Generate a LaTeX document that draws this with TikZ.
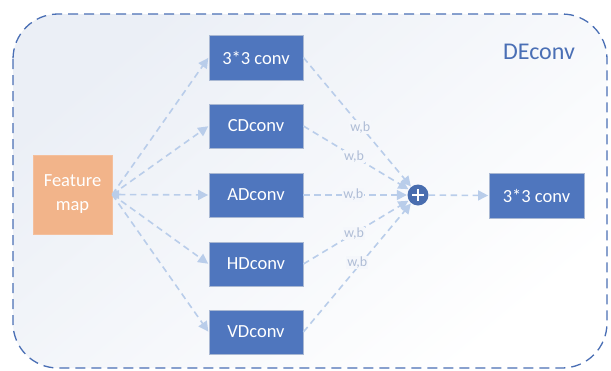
\documentclass[tikz,border=0pt]{standalone}
\usepackage{fontspec}
\setmainfont{Carlito}
\usetikzlibrary{arrows.meta}
\definecolor{boxblue}{HTML}{4F76BE}
\definecolor{boxedge}{HTML}{A9B8D3}
\definecolor{orng}{HTML}{F2B48A}
\definecolor{arr}{HTML}{B9CDEA}
\definecolor{lab}{HTML}{AFBDD6}
\definecolor{frame}{HTML}{4A6FB5}
\definecolor{bgA}{HTML}{EBEFF6}
\definecolor{bgL}{HTML}{F5F7FB}
\tikzset{
  convbox/.style={draw=boxedge, line width=0.8pt, fill=boxblue, text=white,
    minimum width=94pt, minimum height=44pt, inner sep=0pt, font=\fontsize{18.5}{20}\selectfont},
  fmbox/.style={draw=orng!85!white, fill=orng, text=white, minimum width=79pt, minimum height=79pt,
    inner sep=0pt, align=center, font=\fontsize{18.5}{24}\selectfont},
  link/.style={draw=arr, line width=1.6pt, dash pattern=on 6.5pt off 4.5pt,
    -{Triangle[width=10pt,length=10pt,fill=arr,sep=0pt]}, shorten >=0.5pt},
  wb/.style={text=lab, fill=bgL, inner sep=1pt, font=\fontsize{14}{15}\selectfont}
}
\begin{document}
\begin{tikzpicture}[x=1pt,y=-1pt]
\useasboundingbox (0,0) rectangle (611,370);
\fill[white] (0,0) rectangle (611,370);
\shade[top color=bgA, bottom color=white, shading angle=40]
  [rounded corners=45pt] (13,14) rectangle (607,368);
\draw[frame, line width=1.3pt, dash pattern=on 10pt off 6pt, rounded corners=45pt]
  (13,14) rectangle (607,368);
\node[text=frame, font=\fontsize{24}{26}\selectfont] (title) at (539,52) {DEconv};

\node[fmbox] (fm) at (72.5,194.5) {Feature\\map};
\node[convbox, minimum height=45pt] (c33) at (256,57.5) {3*3 conv};
\node[convbox] (cd) at (256,126) {CDconv};
\node[convbox] (ad) at (256,195) {ADconv};
\node[convbox] (hd) at (256,264) {HDconv};
\node[convbox] (vd) at (256,332) {VDconv};
\node[circle, fill=boxblue!92!black, minimum size=21pt, inner sep=0pt] (plus) at (418,195) {};
\draw[white, line width=2.2pt] ([xshift=-6pt]plus.center) -- ([xshift=6pt]plus.center);
\draw[white, line width=2.2pt] ([yshift=-6pt]plus.center) -- ([yshift=6pt]plus.center);
\node[convbox, minimum height=45pt, minimum width=95pt] (out) at (536.5,195.5) {3*3 conv};

\draw[link] (fm.east) -- (c33.west);
\draw[link] (fm.east) -- (cd.west);
\draw[link, {Triangle[width=9pt,length=7pt,fill=arr,sep=0pt]}-{Triangle[width=10pt,length=10pt,fill=arr,sep=0pt]}] (fm.east) -- (ad.west);
\draw[link] (fm.east) -- (hd.west);
\draw[link] (fm.east) -- (vd.west);

\draw[link] (c33.east) -- node[wb, pos=0.5, xshift=3pt, yshift=-5pt] {w,b} (plus);
\draw[link] (cd.east) -- node[wb, pos=0.48] {w,b} (plus);
\draw[link] (ad.east) -- node[wb, pos=0.48] {w,b} (plus);
\draw[link] (hd.east) -- node[wb, pos=0.48] {w,b} (plus);
\draw[link] (vd.east) -- node[wb, pos=0.5, yshift=5pt] {w,b} (plus);

\draw[link] (plus) -- (out.west);
\end{tikzpicture}
\end{document}
